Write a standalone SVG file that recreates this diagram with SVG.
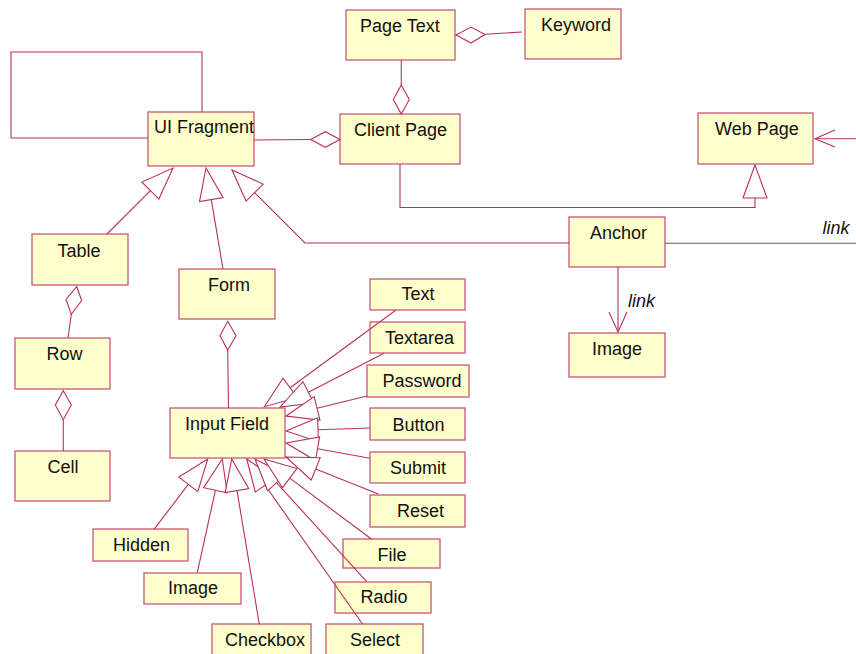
<svg xmlns="http://www.w3.org/2000/svg" width="856" height="654" viewBox="0 0 856 654">
<style>
.box{fill:#ffffcc;stroke:#c8587c;stroke-width:1.3}
.lbl{font-family:"Liberation Sans",Arial,sans-serif;font-size:18px;fill:#111}
.it{font-family:"Liberation Sans",Arial,sans-serif;font-size:18px;font-style:italic;fill:#111}
.c{fill:none;stroke:#b8305f;stroke-width:1.1}
.h{fill:#fff;stroke:#b8305f;stroke-width:1.1}
</style>
<rect width="856" height="654" fill="#fff"/>
<g id="nodes">
<g id="ui-fragment"><rect class="box" x="148" y="112" width="106" height="54"/><text class="lbl" x="154" y="133">UI Fragment</text></g>
<g id="page-text"><rect class="box" x="346" y="10" width="109" height="50"/><text class="lbl" x="360" y="32">Page Text</text></g>
<g id="client-page"><rect class="box" x="340" y="114" width="120" height="50"/><text class="lbl" x="354" y="136">Client Page</text></g>
<g id="keyword"><rect class="box" x="525" y="9" width="96" height="50"/><text class="lbl" x="541" y="31">Keyword</text></g>
<g id="web-page"><rect class="box" x="698" y="113" width="115" height="51"/><text class="lbl" x="715" y="135">Web Page</text></g>
<g id="anchor"><rect class="box" x="569" y="217" width="96" height="50"/><text class="lbl" x="590" y="239">Anchor</text></g>
<g id="image-r"><rect class="box" x="569" y="333" width="96" height="44"/><text class="lbl" x="592" y="355">Image</text></g>
<g id="table"><rect class="box" x="32" y="234" width="96" height="51"/><text class="lbl" x="57.5" y="257">Table</text></g>
<g id="form"><rect class="box" x="179" y="269" width="96" height="50"/><text class="lbl" x="208" y="291">Form</text></g>
<g id="row"><rect class="box" x="15" y="338" width="95" height="51"/><text class="lbl" x="46.5" y="360">Row</text></g>
<g id="cell"><rect class="box" x="15" y="451" width="95" height="50"/><text class="lbl" x="47.5" y="473">Cell</text></g>
<g id="input-field"><rect class="box" x="170" y="408" width="115" height="50"/><text class="lbl" x="185" y="429.5">Input Field</text></g>
<g id="text"><rect class="box" x="370" y="279" width="95" height="31"/><text class="lbl" x="401.5" y="300">Text</text></g>
<g id="textarea"><rect class="box" x="370" y="322" width="95" height="31"/><text class="lbl" x="385" y="343.5">Textarea</text></g>
<g id="password"><rect class="box" x="367" y="365" width="102" height="32"/><text class="lbl" x="382.5" y="387">Password</text></g>
<g id="button"><rect class="box" x="370" y="408" width="95" height="32"/><text class="lbl" x="392.5" y="431">Button</text></g>
<g id="submit"><rect class="box" x="370" y="452" width="95" height="31"/><text class="lbl" x="390" y="473.5">Submit</text></g>
<g id="reset"><rect class="box" x="370" y="495" width="95" height="32"/><text class="lbl" x="397" y="517">Reset</text></g>
<g id="hidden"><rect class="box" x="93" y="529" width="95" height="32"/><text class="lbl" x="113" y="551">Hidden</text></g>
<g id="image-b"><rect class="box" x="144" y="573" width="97" height="31"/><text class="lbl" x="168" y="594">Image</text></g>
<g id="checkbox"><rect class="box" x="212" y="624" width="99" height="34"/><text class="lbl" x="225" y="646">Checkbox</text></g>
<g id="select"><rect class="box" x="326" y="624" width="97" height="34"/><text class="lbl" x="350" y="646">Select</text></g>
<g id="radio"><rect class="box" x="335" y="582" width="96" height="31"/><text class="lbl" x="360.5" y="603">Radio</text></g>
<g id="file"><rect class="box" x="343" y="539" width="97" height="29"/><text class="lbl" x="377.5" y="561">File</text></g>
</g>
<g id="connectors">
<polyline class="c" points="148,138 11,138 11,52 202,52 202,112"/>
<line class="c" x1="254" y1="140" x2="310.7" y2="139.5"/>
<polygon class="h" points="340,139.5 325.3,131.7 310.7,139.5 325.3,147.3"/>
<line class="c" x1="401.3" y1="60" x2="401.3" y2="85"/>
<polygon class="h" points="401.3,85 409.3,99.5 401.3,114 393.3,99.5"/>
<line class="c" x1="485" y1="34.3" x2="522" y2="32"/>
<polygon class="h" points="456,35 471,27 485,34.5 471,43"/>
<polyline class="c" points="400,164 400,207.5 755,207.5 755,198"/>
<polygon class="h" points="755,165 743,198 767,198"/>
<line class="c" x1="815" y1="138.7" x2="856" y2="138.7"/>
<polyline class="c" points="835,130 815,138.7 835,147"/>
<line class="c" x1="665" y1="243.3" x2="856" y2="243.3"/>
<text class="it" x="822.5" y="234">link</text>
<line class="c" x1="618" y1="267" x2="618" y2="332"/>
<polyline class="c" points="609,312 618,332 627,312"/>
<text class="it" x="628" y="307">link</text>
<line class="c" x1="107" y1="234" x2="150.4" y2="190.6"/>
<polygon class="h" points="173,168 158.9,199.1 141.9,182.1"/>
<line class="c" x1="223" y1="269" x2="211.3" y2="199.6"/>
<polygon class="h" points="206,168 223.1,197.6 199.5,201.6"/>
<polyline class="c" points="569,243 305,243 254.6,192.6"/>
<polygon class="h" points="232,170 263.1,184.1 246.1,201.1"/>
<line class="c" x1="71.3" y1="314.3" x2="68" y2="338"/>
<polygon class="h" points="76.7,286.7 81.7,300.5 71.3,314.3 66,299.5"/>
<line class="c" x1="63.3" y1="419.7" x2="63.3" y2="451"/>
<polygon class="h" points="63.3,390.7 71.3,405 63.3,419.7 55.3,405"/>
<line class="c" x1="227.7" y1="350" x2="228.5" y2="408"/>
<polygon class="h" points="227.7,321.3 236,335.7 227.7,350 220,335.7"/>
<line class="c" x1="395.7" y1="310.3" x2="290.1" y2="387.8"/>
<polygon class="h" points="264.3,406.7 283,378.1 297.2,397.5"/>
<line class="c" x1="384" y1="353.3" x2="308.4" y2="392.3"/>
<polygon class="h" points="280,407 302.9,381.6 313.9,403"/>
<line class="c" x1="367" y1="396" x2="317.1" y2="408.3"/>
<polygon class="h" points="286,416 314.2,396.6 320,420"/>
<line class="c" x1="370" y1="428" x2="318" y2="429.8"/>
<polygon class="h" points="286,431 317.6,417.8 318.4,441.8"/>
<line class="c" x1="370" y1="458.3" x2="317.5" y2="448.7"/>
<polygon class="h" points="286,443 319.6,436.9 315.4,460.5"/>
<line class="c" x1="378.3" y1="494" x2="315.7" y2="468.9"/>
<polygon class="h" points="286,457 320.2,457.8 311.2,480"/>
<line class="c" x1="154" y1="529.3" x2="188.3" y2="484.4"/>
<polygon class="h" points="207.7,459 197.8,491.7 178.8,477.1"/>
<line class="c" x1="197.3" y1="572.7" x2="215.4" y2="490.3"/>
<polygon class="h" points="222.3,459 227.1,492.9 203.7,487.7"/>
<line class="c" x1="259.3" y1="624.3" x2="237" y2="490.6"/>
<polygon class="h" points="231.7,459 248.8,488.6 225.2,492.6"/>
<line class="c" x1="362.7" y1="624.3" x2="265.1" y2="485.2"/>
<polygon class="h" points="246.7,459 274.9,478.3 255.3,492.1"/>
<line class="c" x1="366.7" y1="581.7" x2="276.5" y2="482.7"/>
<polygon class="h" points="255,459 285.4,474.6 267.6,490.8"/>
<line class="c" x1="371.7" y1="539.3" x2="289.7" y2="478.1"/>
<polygon class="h" points="264,459 296.9,468.5 282.5,487.7"/>
</g>
</svg>
